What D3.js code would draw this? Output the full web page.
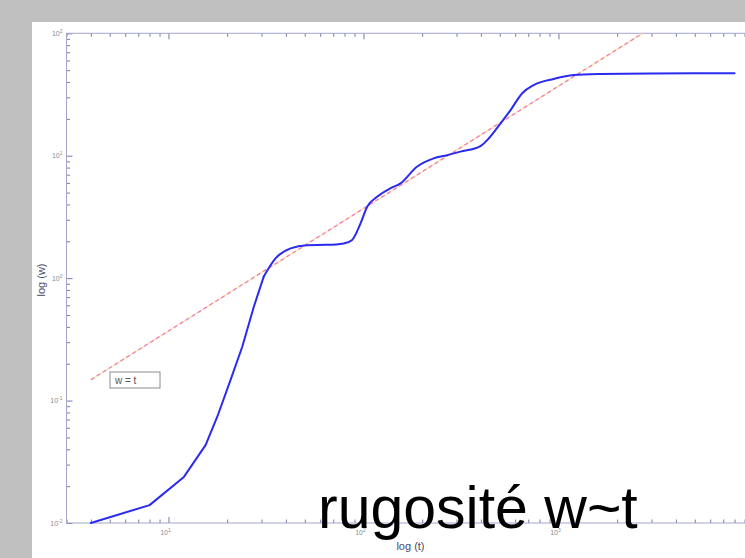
<!DOCTYPE html>
<html>
<head>
<meta charset="utf-8">
<script src="https://cdn.jsdelivr.net/npm/d3@7"></script>
<style>
  html, body { margin: 0; padding: 0; background: #c0c0c0; }
  svg { display: block; }
</style>
</head>
<body>
<svg id="chart" width="745" height="558"></svg>
<script>
// Roughness w(t) measured over time, log-log
const timeValues  = [4, 8, 12, 15.5, 17.8, 20.8, 23.9, 27.4, 30.8, 35.4, 42.3, 51.4, 65, 79.3, 87.5, 96.6, 104.5, 117.5, 137.4, 154.8, 188, 229, 268, 314, 398, 440, 505, 568, 652, 747, 946, 1197, 1641, 3000, 8000];
const widthValues = [0.01, 0.014, 0.0238, 0.0433, 0.0738, 0.147, 0.275, 0.584, 1.03, 1.45, 1.75, 1.86, 1.87, 1.92, 2.05, 2.8, 3.83, 4.62, 5.42, 5.95, 8.13, 9.52, 10.1, 10.8, 12.0, 13.9, 18.4, 23.6, 32.4, 37.8, 42.4, 45.6, 46.5, 47.0, 47.1];
// early samples are joined by straight segments, later ones smoothly
const straightUntil = 8;

// Reference power law w ∝ t
const refTimes = [4, 2700];
const refCoef = 0.037;

// Axis ticks
const xMajorTicks = [10, 100, 1000];
const yMajorTicks = [0.01, 0.1, 1, 10, 100];
const xTickExponents = ["1", "2", "3"];
const yTickExponents = ["-2", "-1", "0", "1", "2"];

const legendText = "w = t";
const xLabel = "log (t)";
const yLabel = "log (w)";
const titleText = "rugosité w~t";

(function draw() {
  const svg = d3.select("#chart");

  // white figure area
  svg.append("rect").attr("x", 32).attr("y", 22).attr("width", 713).attr("height", 536).attr("fill", "#ffffff");

  const plotLeft = 66.5, plotTop = 33.3, plotBottom = 523;
  const decade = 195;
  const x = d3.scaleLog().domain([3, 10000]).range([plotLeft, plotLeft + decade * (4 - Math.log10(3))]);
  const y = d3.scaleLog().domain([0.01, 100]).range([plotBottom, plotTop]);
  const plotRight = x(10000);

  function minorTicks(lo, hi) {
    const out = [];
    for (let e = Math.floor(Math.log10(lo)); e < Math.ceil(Math.log10(hi)); e++) {
      for (let m = 2; m <= 9; m++) {
        const v = m * Math.pow(10, e);
        if (v >= lo && v <= hi) out.push(v);
      }
    }
    return out;
  }
  const xMinor = minorTicks(3, 10000);
  const yMinor = minorTicks(0.01, 100);

  const axisColor = "#a4a4cc";
  const tickColor = "#7a7aa8";

  function styleAxis(g) {
    g.select(".domain").remove();
    g.selectAll(".tick line").attr("stroke", tickColor).attr("stroke-width", 1);
    g.selectAll(".tick text").remove();
  }

  // bottom axis (ticks point inward)
  svg.append("g").attr("transform", `translate(0,${plotBottom})`)
    .call(d3.axisBottom(x).tickValues(xMajorTicks).tickSize(-6).tickFormat(""))
    .call(styleAxis);
  svg.append("g").attr("transform", `translate(0,${plotBottom})`)
    .call(d3.axisBottom(x).tickValues(xMinor).tickSize(-3.5).tickFormat(""))
    .call(styleAxis);
  // top axis
  svg.append("g").attr("transform", `translate(0,${plotTop})`)
    .call(d3.axisTop(x).tickValues(xMajorTicks).tickSize(-6).tickFormat(""))
    .call(styleAxis);
  svg.append("g").attr("transform", `translate(0,${plotTop})`)
    .call(d3.axisTop(x).tickValues(xMinor).tickSize(-3.5).tickFormat(""))
    .call(styleAxis);
  // left axis
  svg.append("g").attr("transform", `translate(${plotLeft},0)`)
    .call(d3.axisLeft(y).tickValues(yMajorTicks).tickSize(-6).tickFormat(""))
    .call(styleAxis);
  svg.append("g").attr("transform", `translate(${plotLeft},0)`)
    .call(d3.axisLeft(y).tickValues(yMinor).tickSize(-3.5).tickFormat(""))
    .call(styleAxis);

  // frame
  svg.append("rect").attr("x", plotLeft).attr("y", plotTop).attr("width", plotRight - plotLeft).attr("height", plotBottom - plotTop)
    .attr("fill", "none").attr("stroke", axisColor).attr("stroke-width", 1);

  // tick labels 10^n
  const labelFont = "Liberation Sans, Arial, sans-serif";
  xMajorTicks.forEach((v, i) => {
    const t = svg.append("text").attr("x", x(v) - 3).attr("y", plotBottom + 12)
      .attr("font-family", labelFont).attr("font-size", 7).attr("fill", "#8a8a8a").attr("text-anchor", "middle");
    t.append("tspan").text("10");
    t.append("tspan").attr("dy", -3).attr("font-size", 5).text(xTickExponents[i]);
  });
  yMajorTicks.forEach((v, i) => {
    const t = svg.append("text").attr("x", plotLeft - 4).attr("y", y(v) + 2.5)
      .attr("font-family", labelFont).attr("font-size", 7).attr("fill", "#8a8a8a").attr("text-anchor", "end");
    t.append("tspan").text("10");
    t.append("tspan").attr("dy", -3).attr("font-size", 5).text(yTickExponents[i]);
  });

  // reference line w = c·t (dash-dot look)
  const refLine = d3.line().x(d => x(d)).y(d => y(refCoef * d));
  svg.append("path").datum(refTimes).attr("d", refLine)
    .attr("fill", "none").attr("stroke", "#ffe6a8").attr("stroke-width", 1.3);
  svg.append("path").datum(refTimes).attr("d", refLine)
    .attr("fill", "none").attr("stroke", "#f07cbe").attr("stroke-width", 1.3).attr("stroke-dasharray", "4,3");

  // measured roughness
  const series = timeValues.map((t, i) => [t, widthValues[i]]);
  const early = series.filter(d => d[0] <= timeValues[straightUntil]);
  const late = series.filter(d => d[0] >= timeValues[straightUntil]);
  const lineStyle = p => p.attr("fill", "none").attr("stroke", "#2b2bf0").attr("stroke-width", 2)
    .attr("stroke-linejoin", "round").attr("stroke-linecap", "round");
  svg.append("path").datum(early)
    .attr("d", d3.line().x(d => x(d[0])).y(d => y(d[1])).curve(d3.curveLinear))
    .call(lineStyle);
  svg.append("path").datum(late)
    .attr("d", d3.line().x(d => x(d[0])).y(d => y(d[1])).curve(d3.curveMonotoneX))
    .call(lineStyle);

  // legend box
  const lg = svg.append("g").attr("transform", "translate(110,372)");
  lg.append("rect").attr("width", 50).attr("height", 16).attr("fill", "#ffffff").attr("stroke", "#8c8c8c").attr("stroke-width", 1);
  lg.append("text").attr("x", 5).attr("y", 12).attr("font-family", labelFont).attr("font-size", 10).attr("fill", "#555555").text(legendText);

  // axis titles
  svg.append("text").attr("x", x(100) + 47).attr("y", 550).attr("text-anchor", "middle")
    .attr("font-family", labelFont).attr("font-size", 11).attr("fill", "#4a4a66").text(xLabel);
  svg.append("text").attr("transform", "translate(45,280) rotate(-90)").attr("text-anchor", "middle")
    .attr("font-family", labelFont).attr("font-size", 11).attr("fill", "#4a4a66").text(yLabel);

  // caption
  svg.append("text").attr("x", 318).attr("y", 528)
    .attr("font-family", labelFont).attr("font-size", 59).attr("fill", "#000000").text(titleText);
})();
</script>
</body>
</html>
